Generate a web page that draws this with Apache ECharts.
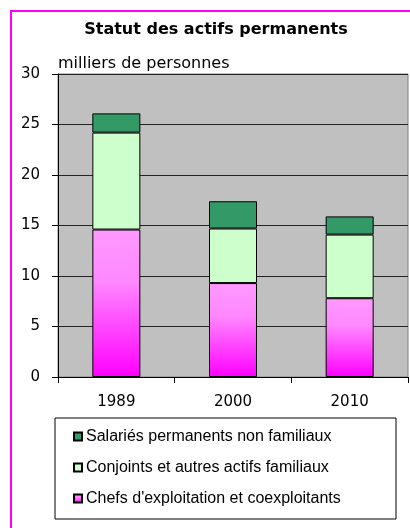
<!DOCTYPE html>
<html>
<head>
<meta charset="utf-8">
<script src="https://cdn.jsdelivr.net/npm/echarts@6/dist/echarts.min.js"></script>
<style>
  html, body { margin: 0; padding: 0; background: #fff; }
  #main { width: 410px; height: 528px; }
</style>
</head>
<body>
<div id="main"></div>
<script>
// données (milliers de personnes)
var annees = ['1989', '2000', '2010'];
var chefs = [14.6, 9.3, 7.8];
var conjoints = [9.6, 5.4, 6.3];
var salaries = [1.9, 2.7, 1.8];
var yTicks = [0, 5, 10, 15, 20, 25, 30];

(function() {
    var myChart = echarts.init(document.getElementById('main'));
    var axisFont = 'DejaVu Sans';
    var option = {
        animation: false,
        backgroundColor: '#fff',
        title: {
            text: 'Statut des actifs permanents',
            left: 211,
            textAlign: 'center',
            top: 17,
            textStyle: { fontFamily: 'DejaVu Sans', fontWeight: 'bold', fontSize: 16, color: '#000' }
        },
        graphic: [
            {
                type: 'rect',
                shape: { x: 11, y: 11, width: 520, height: 600 },
                style: { fill: 'none', stroke: '#ff00ff', lineWidth: 2 }
            },
            {
                type: 'text',
                left: 58,
                top: 56,
                style: { text: 'milliers de personnes', font: '16px DejaVu Sans', fill: '#000' }
            }
        ],
        grid: {
            left: 58, top: 74, right: 2, bottom: 151,
            show: true, backgroundColor: '#c0c0c0', borderColor: '#808080', borderWidth: 1
        },
        legend: {
            orient: 'vertical',
            left: 55,
            top: 418,
            data: ['Salariés permanents non familiaux', 'Conjoints et autres actifs familiaux', "Chefs d'exploitation et coexploitants"],
            itemWidth: 8,
            itemHeight: 8,
            itemGap: 14,
            padding: [10, 10, 12, 18],
            borderColor: '#000',
            borderWidth: 1,
            icon: 'rect',
            textStyle: { fontFamily: 'Liberation Sans', fontSize: 16, lineHeight: 17, width: 300, color: '#000', padding: [0, 0, 0, -1] }
        },
        xAxis: {
            type: 'category',
            data: annees,
            axisLine: { lineStyle: { color: '#000' } },
            axisTick: { show: true, length: 6, lineStyle: { color: '#000' } },
            axisLabel: { margin: 18, fontFamily: axisFont, fontSize: 15, color: '#000' }
        },
        yAxis: {
            type: 'value',
            min: yTicks[0],
            max: yTicks[yTicks.length - 1],
            interval: 5,
            axisLine: { show: true, lineStyle: { color: '#000' } },
            axisTick: { show: true, length: 6, lineStyle: { color: '#000' } },
            axisLabel: { margin: 18, fontFamily: axisFont, fontSize: 15, color: '#000' },
            splitLine: { lineStyle: { color: '#222', width: 1 } }
        },
        series: [
            {
                name: "Chefs d'exploitation et coexploitants",
                type: 'bar',
                stack: 'total',
                barWidth: 48,
                data: chefs,
                itemStyle: {
                    color: new echarts.graphic.LinearGradient(0, 0, 0, 1, [
                        { offset: 0, color: '#ff99ff' },
                        { offset: 0.35, color: '#ff88ff' },
                        { offset: 1, color: '#ff00ff' }
                    ]),
                    borderColor: '#000',
                    borderWidth: 1
                }
            },
            {
                name: 'Conjoints et autres actifs familiaux',
                type: 'bar',
                stack: 'total',
                data: conjoints,
                itemStyle: { color: '#ccffcc', borderColor: '#000', borderWidth: 1 }
            },
            {
                name: 'Salariés permanents non familiaux',
                type: 'bar',
                stack: 'total',
                data: salaries,
                itemStyle: { color: '#339966', borderColor: '#000', borderWidth: 1 }
            }
        ]
    };
    myChart.setOption(option);
})();
</script>
</body>
</html>
